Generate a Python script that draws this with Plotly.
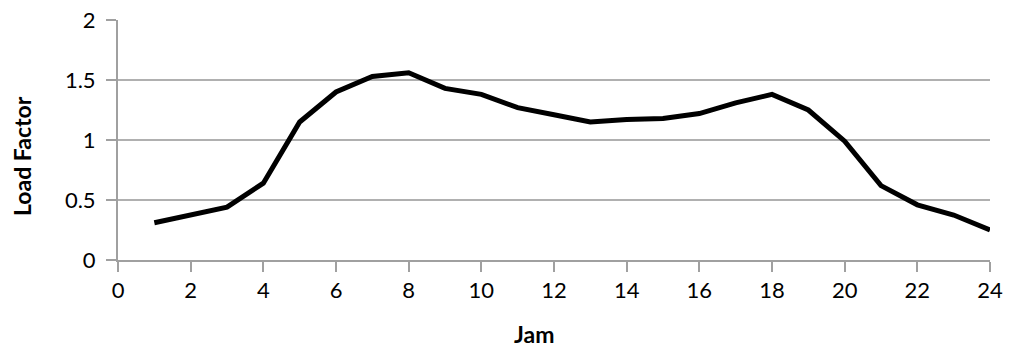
import plotly.graph_objects as go

hours = list(range(1, 25))
load_factor = [0.31, 0.37, 0.44, 0.64, 1.15, 1.40, 1.53, 1.56, 1.43, 1.38,
               1.27, 1.21, 1.15, 1.17, 1.18, 1.22, 1.31, 1.38, 1.25, 0.99,
               0.62, 0.46, 0.375, 0.25]
x_ticks = list(range(0, 25, 2))
y_ticks = [0, 0.5, 1, 1.5, 2]
y_tick_labels = ["0", "0.5", "1", "1.5", "2"]
x_title = "Jam"
y_title = "Load Factor"

fig = go.Figure()
fig.add_trace(go.Scatter(x=hours, y=load_factor, mode="lines",
                         line=dict(color="black", width=5), showlegend=False))

font = "Lato, 'Open Sans', sans-serif"
fig.update_layout(
    width=1009, height=347,
    margin=dict(l=118, r=19, t=20, b=87, autoexpand=False),
    paper_bgcolor="white", plot_bgcolor="white",
    font=dict(family=font, color="black", size=22),
    xaxis=dict(range=[0, 24], tickvals=x_ticks, showgrid=False,
               showline=True, linecolor="#a0a0a0", linewidth=2,
               ticks="outside", ticklen=10, tickwidth=2, tickcolor="#a0a0a0",
               ticklabelstandoff=0, ticklabeloverflow="allow", automargin=False,
               zeroline=False, fixedrange=True),
    yaxis=dict(range=[0, 2], tickvals=y_ticks, ticktext=y_tick_labels,
               showgrid=True, gridcolor="#b0b0b0", gridwidth=1.5,
               showline=True, linecolor="#a0a0a0", linewidth=2,
               ticks="outside", ticklen=10, tickwidth=2, tickcolor="#a0a0a0",
               ticklabelstandoff=6, ticklabeloverflow="allow", automargin=False,
               zeroline=False, fixedrange=True),
    annotations=[
        dict(text="<b>%s</b>" % x_title, xref="paper", yref="paper",
             x=0.477, y=-0.308, xanchor="center", yanchor="middle",
             showarrow=False, font=dict(size=23)),
        dict(text="<b>%s</b>" % y_title, xref="paper", yref="paper",
             x=0, xshift=-96, y=0.433, xanchor="center", yanchor="middle",
             textangle=-90, showarrow=False, font=dict(size=23)),
    ],
)

fig.write_html(
    "out.html",
    config={"displayModeBar": False, "staticPlot": True},
    post_script="document.body.style.margin='0';document.body.style.overflow='hidden';",
)
